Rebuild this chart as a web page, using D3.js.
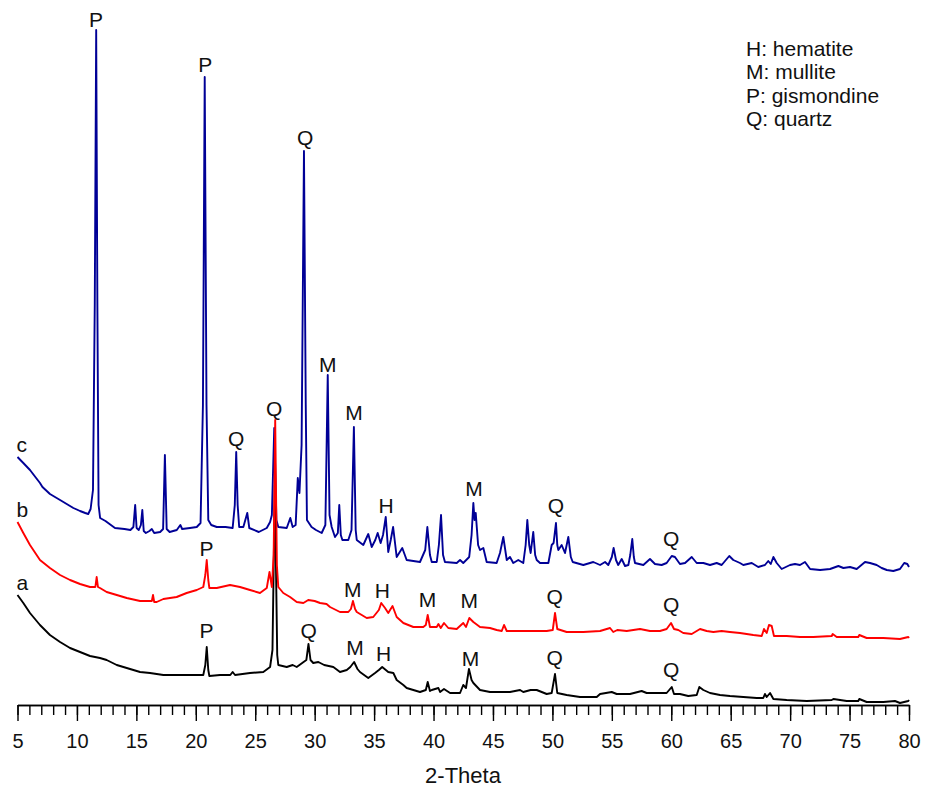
<!DOCTYPE html>
<html>
<head>
<meta charset="utf-8">
<script src="https://cdn.jsdelivr.net/npm/d3@7"></script>
<style>
  body { margin: 0; background: #fff; }
  svg { display: block; font-family: "Liberation Sans", Arial, sans-serif; }
</style>
</head>
<body>
<script>
// sample c (top, blue) - [2theta, intensity as plotted with offset]
var traceC = [
  [5.00,248],[5.49,242],[6.05,235],[6.89,222],[7.10,218],[7.73,211],[8.58,205],[9.42,199],[9.70,197],
  [10.26,194],[10.70,192],[10.95,191],[11.15,196],[11.35,215],[11.50,400],[11.62,675],[11.72,400],
  [11.82,200],[11.95,187],[12.40,184],[13.20,177],[14.00,176],[14.50,175],[14.75,178],[14.90,200],
  [15.02,177],[15.20,175],[15.38,180],[15.50,195],[15.62,174],[15.80,172],[16.10,174],[16.30,176],
  [16.50,172],[17.00,173],[17.25,176],[17.40,250],[17.55,176],[17.80,173],[18.40,175],[18.70,180],
  [18.85,176],[19.51,177],[20.08,178],[20.40,182],[20.60,300],[20.75,628],[20.90,300],[21.05,185],
  [21.30,180],[21.76,178],[22.50,178],[23.10,177],[23.28,200],[23.40,253],[23.52,200],[23.65,178],
  [24.00,178],[24.33,192],[24.50,177],[25.30,173],[25.97,177],[26.25,183],[26.40,190],[26.60,277],
  [26.78,185],[26.94,178],[27.65,177],[27.95,187],[28.15,178],[28.40,180],[28.58,227],[28.72,212],
  [28.90,260],[29.10,554],[29.25,300],[29.35,185],[29.74,178],[30.11,175],[30.59,172],[30.90,180],
  [31.10,330],[31.25,190],[31.43,178],[31.71,168],[31.95,172],[32.07,200],[32.20,170],[32.33,165],
  [32.83,165],[33.10,175],[33.30,278],[33.45,175],[33.54,165],[34.09,160],[34.51,171],[34.80,158],
  [35.10,165],[35.30,172],[35.55,162],[35.75,170],[35.98,188],[36.19,153],[36.40,165],[36.60,178],
  [36.90,148],[37.37,157],[37.74,145],[38.86,143],[39.30,155],[39.48,178],[39.70,150],[39.85,143],
  [40.27,143],[40.45,160],[40.63,190],[40.80,150],[40.96,143],[41.95,142],[42.23,145],[42.50,142],
  [43.00,148],[43.20,170],[43.35,202],[43.45,185],[43.55,192],[43.75,160],[43.91,155],[44.19,157],
  [44.47,143],[45.31,142],[45.59,152],[45.87,168],[46.16,145],[46.43,148],[46.71,142],[47.13,145],
  [47.55,142],[47.75,160],[47.89,185],[48.05,160],[48.17,152],[48.39,173],[48.55,150],[48.68,145],
  [48.96,142],[49.66,142],[49.94,160],[50.10,162],[50.30,182],[50.41,160],[50.50,155],[50.78,160],
  [51.06,152],[51.34,168],[51.55,148],[51.71,143],[52.60,140],[53.44,143],[54.01,140],[54.43,143],
  [54.70,140],[55.00,148],[55.15,157],[55.35,145],[55.54,140],[55.83,146],[56.11,139],[56.39,140],
  [56.55,150],[56.72,166],[56.85,148],[56.95,142],[57.65,140],[58.21,146],[58.63,141],[59.19,140],
  [59.61,142],[60.04,149],[60.31,148],[60.73,141],[61.16,142],[61.72,148],[62.14,142],[62.70,142],
  [63.26,140],[63.82,142],[64.24,140],[64.88,149],[65.22,145],[65.78,142],[66.06,140],[66.77,142],
  [67.32,138],[67.88,140],[68.16,144],[68.37,141],[68.59,148],[68.87,142],[69.29,136],[69.99,140],
  [70.41,141],[70.83,140],[71.25,143],[71.68,136],[72.52,135],[73.36,136],[74.06,139],[74.48,137],
  [75.04,138],[75.60,136],[76.30,143],[76.72,142],[77.28,140],[77.70,137],[78.13,135],[78.68,134],
  [79.24,136],[79.60,142],[79.86,141],[80.00,138]
];

// sample b (middle, red)
var traceB = [
  [5.00,183],[5.49,172],[6.05,160],[6.89,145],[7.73,137],[8.58,130],[9.42,125],[10.26,121],[11.10,118],
  [11.55,118],[11.66,128],[11.77,118],[11.94,117],[12.50,113],[13.35,110],[14.19,107],[15.31,104],
  [16.15,104],[16.30,104],[16.40,110],[16.50,103],[16.71,103],[17.27,106],[18.39,108],[19.23,112],
  [20.08,115],[20.63,118],[20.80,130],[20.92,145],[21.05,125],[21.14,117],[21.76,117],[22.88,120],
  [23.72,118],[24.56,115],[25.40,112],[25.97,117],[26.20,133],[26.40,118],[26.55,150],[26.68,285],
  [26.82,140],[26.94,118],[27.36,112],[27.93,108],[28.49,103],[29.05,102],[29.46,105],[30.00,104],
  [30.45,102],[31.00,101],[31.29,98],[32.13,93],[32.83,93],[33.05,96],[33.22,104],[33.40,96],
  [33.54,93],[34.38,87],[34.93,88],[35.40,95],[35.60,102],[35.92,97],[36.19,92],[36.55,99],[36.90,88],
  [37.46,82],[38.30,78],[39.14,78],[39.35,80],[39.51,90],[39.70,78],[40.27,78],[40.41,81],[40.61,77],
  [40.88,82],[41.24,77],[41.95,76],[42.50,82],[42.73,78],[43.01,87],[43.35,83],[43.91,78],[44.75,77],
  [45.31,75],[45.74,74],[45.93,80],[46.16,74],[47.00,74],[48.39,74],[49.52,74],[50.03,75],[50.22,92],
  [50.41,76],[51.20,73],[52.60,73],[54.01,74],[54.85,77],[55.12,73],[55.46,75],[56.25,74],[57.37,76],
  [58.21,74],[59.05,74],[59.61,76],[59.98,82],[60.23,76],[60.59,75],[61.01,72],[61.72,71],[62.42,76],
  [62.98,74],[63.54,73],[64.24,74],[64.94,73],[65.78,72],[66.90,70],[67.61,69],[67.80,76],[68.03,72],
  [68.22,80],[68.45,79],[68.64,69],[69.71,69],[70.83,68],[71.95,68],[73.50,69],[73.58,71],[73.92,68],
  [74.76,68],[75.73,68],[75.82,70],[76.44,67],[77.84,67],[79.24,66],[79.94,68],[80.00,67]
];

// sample a (bottom, black)
var traceA = [
  [5.00,110],[5.49,102],[6.05,92],[6.89,80],[7.73,70],[8.58,63],[9.42,57],[10.26,53],[11.10,49],
  [11.94,47],[12.50,45],[13.35,40],[14.19,37],[15.31,33],[16.15,32],[17.27,30],[18.39,30],[19.51,30],
  [20.63,30],[20.80,40],[20.92,58],[21.05,35],[21.14,29],[22.04,30],[22.90,30],[23.10,33],[23.30,30],
  [24.56,32],[25.68,33],[26.25,38],[26.45,55],[26.65,220],[26.85,50],[26.94,40],[27.65,38],[28.15,40],
  [28.49,38],[29.30,45],[29.48,61],[29.65,45],[29.88,42],[30.31,43],[30.80,40],[31.57,38],[32.13,33],
  [32.70,35],[33.00,38],[33.32,43],[33.60,36],[33.81,33],[34.51,27],[35.08,32],[35.40,35],[35.68,38],
  [36.19,33],[36.62,32],[36.90,25],[37.46,20],[37.74,17],[38.30,15],[38.86,13],[39.35,15],[39.51,23],
  [39.70,14],[39.85,15],[40.41,17],[40.55,13],[40.88,16],[41.39,12],[42.23,12],[42.50,20],[42.73,17],
  [42.98,36],[43.20,25],[43.35,22],[43.91,15],[44.75,13],[45.59,13],[46.43,13],[47.28,15],[47.55,13],
  [48.17,15],[48.68,15],[49.52,11],[49.94,12],[50.22,31],[50.41,12],[51.20,10],[52.32,8],[53.73,8],
  [54.01,11],[54.99,13],[55.41,11],[56.53,11],[57.51,14],[57.93,12],[59.61,12],[60.04,18],[60.23,11],
  [60.73,11],[61.43,9],[62.14,10],[62.36,18],[62.70,15],[63.26,12],[64.10,10],[64.94,9],[66.06,8],
  [67.19,7],[67.74,7],[67.88,11],[68.03,8],[68.31,12],[68.59,6],[69.71,5],[71.40,4],[73.50,5],
  [73.64,6],[74.76,4],[75.73,4],[75.82,6],[76.44,3],[77.84,3],[78.82,4],[79.24,2],[79.94,4],[80.00,5]
];

// phase labels: [letter, 2theta, intensity of label baseline]
var labelsC = [["P",11.6,678],["P",20.8,633],["Q",29.2,560],["Q",23.4,259],["Q",26.6,289],
  ["M",31.1,333],["M",33.3,285],["H",36.0,192],["M",43.4,209],["Q",50.3,192],["Q",60.0,159]];
var labelsB = [["P",20.9,149],["M",33.2,108],["H",35.7,107],["M",39.5,98],["M",43.0,97],
  ["Q",50.2,101],["Q",60.0,93]];
var labelsA = [["P",20.9,67],["Q",29.5,67],["M",33.4,50],["H",35.8,44],["M",43.1,39],
  ["Q",50.2,40],["Q",60.0,28]];

var sampleNames = [["c",253],["b",188],["a",115]];
var legendItems = ["H: hematite","M: mullite","P: gismondine","Q: quartz"];
var majorTicks = d3.range(5, 81, 5);
var minorTicks = d3.range(5, 81, 1);

var width = 936, height = 790;
var svg = d3.select("body").append("svg").attr("width", width).attr("height", height);

var x = d3.scaleLinear().domain([5, 80]).range([17.5, 909]);
var y = d3.scaleLinear().domain([0, 700]).range([705, 5]);

var line = d3.line().x(d => x(d[0])).y(d => y(d[1]));

//traces: blue, black, then red on top
var series = [{data:traceC, col:"#000096"},{data:traceA, col:"#000000"},{data:traceB, col:"#ff0000"}];
series.forEach(function(s){
  svg.append("path")
    .attr("d", line(s.data))
    .attr("fill", "none")
    .attr("stroke", s.col)
    .attr("stroke-width", 1.9)
    .attr("stroke-linejoin", "round");
});

//peak letters
var allLabels = labelsC.concat(labelsB, labelsA);
svg.selectAll("text.peak").data(allLabels).enter().append("text")
  .attr("class", "peak")
  .attr("x", d => x(d[1]))
  .attr("y", d => y(d[2]))
  .attr("text-anchor", "middle")
  .attr("font-size", "21px")
  .attr("fill", "#111")
  .text(d => d[0]);

//sample names
svg.selectAll("text.sample").data(sampleNames).enter().append("text")
  .attr("class", "sample")
  .attr("x", x(5) - 1)
  .attr("y", d => y(d[1]))
  .attr("font-size", "21px")
  .attr("fill", "#111")
  .text(d => d[0]);

//legend
svg.selectAll("text.legend").data(legendItems).enter().append("text")
  .attr("class", "legend")
  .attr("x", 746)
  .attr("y", (d, i) => 56 + i * 23.3)
  .attr("font-size", "21px")
  .attr("fill", "#111")
  .text(d => d);

//x axis
var axisG = svg.append("g").attr("transform", "translate(0,705)");
axisG.call(d3.axisBottom(x).tickValues(minorTicks).tickSize(10).tickSizeOuter(0).tickFormat(""));
var majorG = svg.append("g").attr("transform", "translate(0,705)");
majorG.call(d3.axisBottom(x).tickValues(majorTicks).tickSize(16).tickSizeOuter(0).tickPadding(13).tickFormat(d3.format("d")));
svg.selectAll(".domain").attr("stroke", "#000").attr("stroke-width", 1.4);
svg.selectAll(".tick line").attr("stroke", "#000").attr("stroke-width", 1.4);
majorG.selectAll("text").attr("font-size", "20px").attr("fill", "#111")
  .attr("font-family", "'Liberation Sans', Arial, sans-serif");

svg.append("text")
  .attr("x", 463)
  .attr("y", 783)
  .attr("text-anchor", "middle")
  .attr("font-size", "22px")
  .attr("fill", "#111")
  .text("2-Theta");
</script>
</body>
</html>
